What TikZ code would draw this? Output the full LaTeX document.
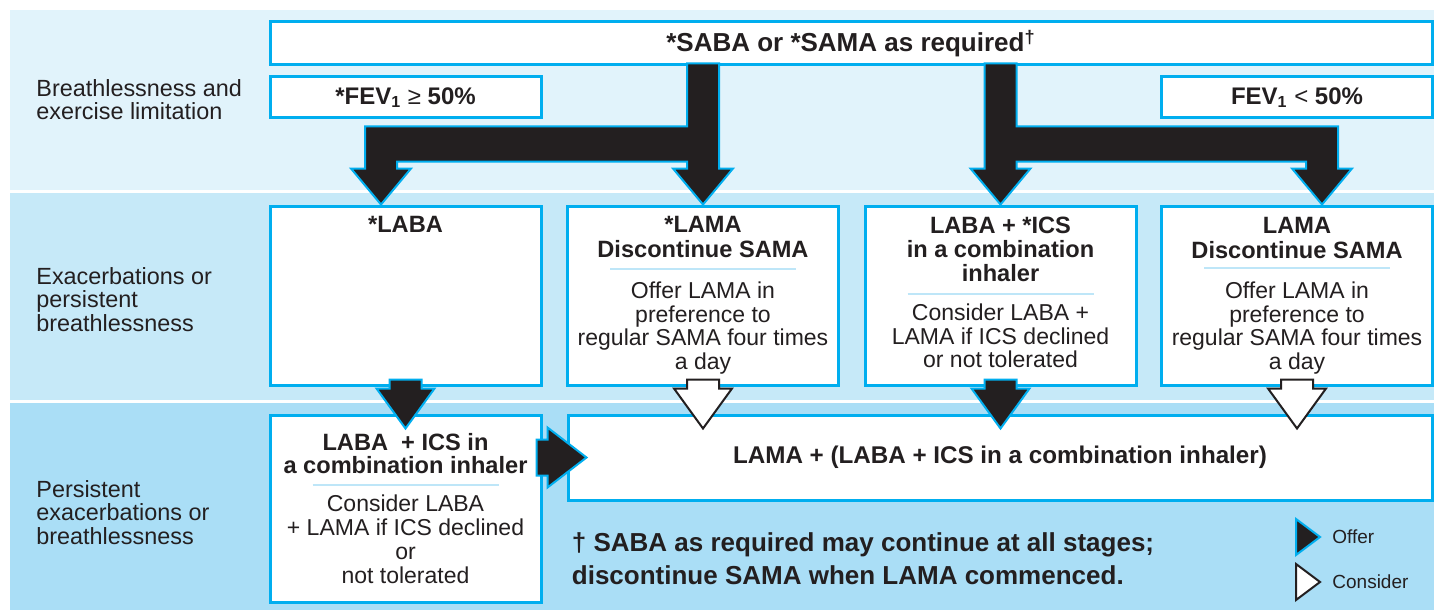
\documentclass[tikz,border=0pt]{standalone}
\usepackage{fontspec}
\setmainfont{Liberation Sans}
\usetikzlibrary{calc,positioning}
\definecolor{bandA}{HTML}{E1F3FB}
\definecolor{bandB}{HTML}{C6E9F8}
\definecolor{bandC}{HTML}{AADEF6}
\definecolor{nicecyan}{HTML}{00AEEF}
\definecolor{ink}{HTML}{231F20}
\definecolor{sepcol}{HTML}{BEE6F8}
\newcommand{\topline}{\rule{0pt}{10pt}}

\tikzset{
  panel/.style={draw=nicecyan, line width=1.5pt, fill=white, inner sep=0pt, text=ink},
  headtxt/.style={anchor=north, align=center, inner sep=0pt, text=ink,
    font=\bfseries\fontsize{11.8}{12.5}\selectfont},
  bodytxt/.style={anchor=north, align=center, inner sep=0pt, text=ink,
    font=\fontsize{11.5}{11.7}\selectfont},
  bandtxt/.style={anchor=north west, align=left, inner sep=0pt, text=ink,
    font=\fontsize{11.7}{11.75}\selectfont},
  legtxt/.style={inner sep=0pt, text=ink, font=\fontsize{9.5}{11}\selectfont},
  offer/.style={fill=ink, draw=nicecyan, line width=1pt, line join=miter},
  consider/.style={fill=white, draw=ink, line width=1pt, line join=miter},
  sepline/.style={draw=sepcol, line width=1pt},
  blockdown/.style={to path={let \p1=(\tikztostart), \p2=(\tikztotarget) in
    (\x1-8pt,\y1) -- (\x1+8pt,\y1) -- (\x1+8pt,\y2+20pt) -- (\x1+14.5pt,\y2+20pt)
    -- (\x2,\y2) -- (\x1-14.5pt,\y2+20pt) -- (\x1-8pt,\y2+20pt) -- cycle}},
  blockright/.style={to path={let \p1=(\tikztostart), \p2=(\tikztotarget) in
    (\x1,\y1+9pt) -- (\x2-19.5pt,\y1+9pt) -- (\x2-19.5pt,\y2+15pt) -- (\x2,\y2)
    -- (\x2-19.5pt,\y2-15pt) -- (\x2-19.5pt,\y1-9pt) -- (\x1,\y1-9pt) -- cycle}},
}

\begin{document}
\begin{tikzpicture}[x=0.5pt,y=-0.5pt]
  \useasboundingbox (0,0) rectangle (1434,610);
  \fill[white] (0,0) rectangle (1434,610);
  % bands
  \fill[bandA] (10,10) rectangle (1434,190);
  \fill[bandB] (10,193) rectangle (1434,400);
  \fill[bandC] (10,403) rectangle (1434,610);
  \node[bandtxt] (stage1) at (36,76) {\topline Breathlessness and\\exercise limitation};
  \node[bandtxt] (stage2) at (36,264) {\topline Exacerbations or\\persistent\\breathlessness};
  \node[bandtxt] (stage3) at (36,477) {\topline Persistent\\exacerbations or\\breathlessness};

  % top row
  \node[panel, minimum width=581pt, minimum height=21.5pt,
    font=\bfseries\fontsize{13}{15}\selectfont] (top) at (851,43.5)
    {*SABA or *SAMA as required\textsuperscript{†}};
  \node[panel, minimum width=135.5pt, minimum height=20.5pt,
    font=\bfseries\fontsize{12}{14}\selectfont] (fevhi) at (405.5,97.5)
    {*FEV\textsubscript{1} {\mdseries ≥} 50\%};
  \node[panel, minimum width=135.5pt, minimum height=20.5pt,
    font=\bfseries\fontsize{12}{14}\selectfont] (fevlo) at (1297,97.5)
    {FEV\textsubscript{1} {\mdseries <} 50\%};

  % second row
  \node[panel, minimum width=135.5pt, minimum height=89.5pt] (laba) at (405.5,295.5) {};
  \node[panel, minimum width=135.5pt, minimum height=89.5pt] (lama) at (703,295.5) {};
  \node[panel, minimum width=135.5pt, minimum height=89.5pt] (labaics) at (1000.5,295.5) {};
  \node[panel, minimum width=135.5pt, minimum height=89.5pt] (lamab) at (1297,295.5) {};

  \node[headtxt] (labahd) at ([yshift=-4pt]laba.north) {\topline *LABA};

  \node[headtxt] (lamahd) at ([yshift=-4pt]lama.north) {\topline *LAMA\\Discontinue SAMA};
  \draw[sepline] ($(lama.north)+(-93,64)$) -- ++(186,0);
  \node[bodytxt] (lamabd) at ([yshift=-37pt]lama.north)
    {\topline Offer LAMA in\\preference to\\regular SAMA four times\\a day};

  \node[headtxt, font=\bfseries\fontsize{11.8}{12}\selectfont] (icshd)
    at ([yshift=-4.5pt]labaics.north) {\topline LABA + *ICS\\in a combination\\inhaler};
  \draw[sepline] ($(labaics.north)+(-93,89)$) -- ++(186,0);
  \node[bodytxt] (icsbd) at ([yshift=-48pt]labaics.north)
    {\topline Consider LABA +\\LAMA if ICS declined\\or not tolerated};

  \node[headtxt] (lamabhd) at ([yshift=-4.5pt]lamab.north) {\topline LAMA\\Discontinue SAMA};
  \draw[sepline] ($(lamab.north)+(-93,63)$) -- ++(186,0);
  \node[bodytxt] (lamabbd) at ([yshift=-37pt]lamab.north)
    {\topline Offer LAMA in\\preference to\\regular SAMA four times\\a day};

  % third row
  \node[panel, minimum width=135.5pt, minimum height=93.5pt] (combo) at (405.5,508.5) {};
  \node[headtxt, font=\bfseries\fontsize{11.8}{11.5}\selectfont] (combohd)
    at ([yshift=-8.5pt]combo.north) {\topline LABA\ \ + ICS in\\a combination inhaler};
  \draw[sepline] ($(combo.north)+(-93,71)$) -- ++(186,0);
  \node[bodytxt, font=\fontsize{11.5}{12}\selectfont] (combobd) at ([yshift=-39pt]combo.north)
    {\topline Consider LABA\\+ LAMA if ICS declined\\or\\not tolerated};

  \node[panel, minimum width=432pt, minimum height=42.5pt,
    font=\bfseries\fontsize{12.1}{14}\selectfont] (triple) at (1000,457.5)
    {LAMA + (LABA + ICS in a combination inhaler)};

  \node[anchor=north west, align=left, inner sep=0pt, text=ink,
    font=\bfseries\fontsize{13}{16.5}\selectfont] (note) at ($(triple.south west)+(5,30)$)
    {\topline † SABA as required may continue at all stages;\\discontinue SAMA when LAMA commenced.};

  % forks from the top box
  \coordinate (lftip) at ([xshift=-12.25pt]laba.north);
  \coordinate (rttip) at ([xshift=12.5pt]lamab.north);
  \filldraw[offer] (lama.north) -- ++(30,-36) -- ++(-14,0) -- ++(0,-105) -- ++(-32,0)
    -- ++(0,63) -- ++(-322,0) -- ++(0,42) -- ++(-14,0) -- (lftip) -- ++(30,-36)
    -- ++(-14,0) -- ++(0,-7) -- ++(290,0) -- ++(0,7) -- ++(-14,0) -- cycle;
  \filldraw[offer] (labaics.north) -- ++(-30,-36) -- ++(14,0) -- ++(0,-105) -- ++(32,0)
    -- ++(0,63) -- ++(321.5,0) -- ++(0,42) -- ++(14,0) -- (rttip) -- ++(-30,-36)
    -- ++(14,0) -- ++(0,-7) -- ++(-289.5,0) -- ++(0,7) -- ++(14,0) -- cycle;

  % second row to third row
  \coordinate (t2) at (lama.south |- triple.north);
  \coordinate (t3) at (labaics.south |- triple.north);
  \coordinate (t4) at (lamab.south |- triple.north);
  \coordinate (r1) at (combo.east |- triple.west);
  \draw[offer] ([yshift=3.5pt]laba.south) to[blockdown] ([yshift=-7.5pt]combo.north);
  \draw[consider] ([yshift=3.5pt]lama.south) to[blockdown] ([yshift=-7.5pt]t2);
  \draw[offer] ([yshift=3.5pt]labaics.south) to[blockdown] ([yshift=-7.5pt]t3);
  \draw[consider] ([yshift=3.5pt]lamab.south) to[blockdown] ([yshift=-7.5pt]t4);
  \draw[offer] ([xshift=-3pt]r1) to[blockright] ([xshift=10pt]triple.west);

  % legend
  \coordinate (offtip) at (1320,537);
  \coordinate (contip) at (1320,582);
  \filldraw[offer] (offtip) -- ++(-24,-18) -- ++(0,36) -- cycle;
  \filldraw[consider] (contip) -- ++(-24,-18) -- ++(0,36) -- cycle;
  \node[legtxt, anchor=west, right=6pt of offtip] (offlab) {Offer};
  \node[legtxt, anchor=west, right=6pt of contip] (conlab) {Consider};
\end{tikzpicture}
\end{document}
